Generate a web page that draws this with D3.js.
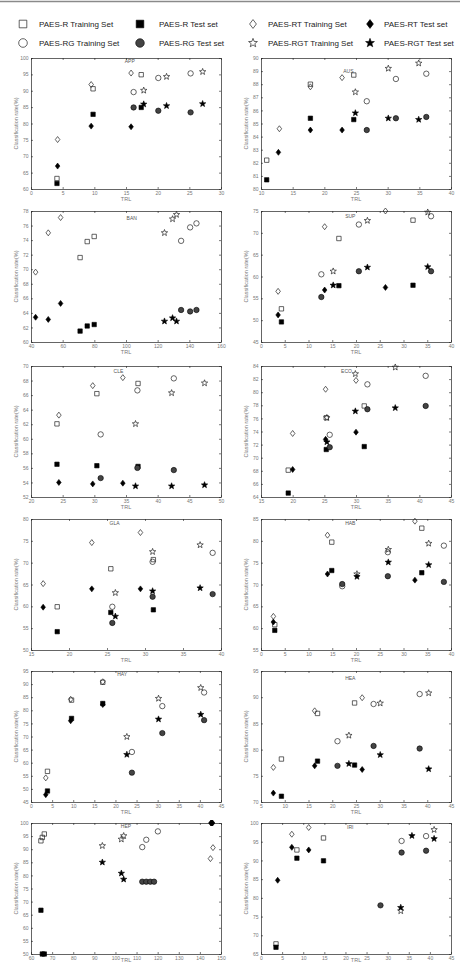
<!DOCTYPE html>
<html><head><meta charset="utf-8">
<script src="https://cdn.jsdelivr.net/npm/d3@7/dist/d3.min.js"></script>
<style>body{margin:0;background:#fff}svg{display:block}</style>
</head><body>
<script>
// ---------- DATA ----------
const panels = ["APP","AUS","BAN","SUP","CLE","ECO","GLA","HAB","HAY","HEA","HEP","IRI"];
const xDomains = [[0,30],[10,40],[40,160],[0,40],[20,50],[15,45],[15,40],[0,40],[0,45],[5,45],[60,150],[0,45]];
const yDomains = [[60,100],[80,90],[60,78],[45,75],[52,70],[64,84],[50,80],[55,85],[45,95],[70,95],[50,100],[65,100]];
const xSteps = [5,5,20,5,5,5,5,5,5,5,10,5];
const ySteps = [5,1,2,5,2,2,5,5,5,5,5,5];

// series: one entry per panel, each a list of [TRL, rate]
const rTrain = [
  [[4.1,63.2],[9.8,90.6],[17.4,94.9]],
  [[10.9,82.2],[17.8,88.0],[24.65,88.7]],
  [[71.0,71.6],[75.5,73.8],[79.9,74.5]],
  [[4.3,52.6],[16.4,68.7],[32.0,72.9]],
  [[24.1,62.05],[30.4,66.2],[36.9,67.6]],
  [[19.3,68.1],[25.3,76.1],[31.3,77.9]],
  [[18.45,59.9],[25.5,68.6],[31.1,70.7]],
  [[2.9,60.8],[14.9,79.7],[33.85,82.9]],
  [[3.9,56.7],[9.6,83.9],[17.0,90.7]],
  [[9.3,78.2],[16.9,86.9],[24.7,88.9]],
  [[64.7,93.2],[65.35,94.5],[66.3,95.8]],
  [[3.55,67.7],[8.5,92.8],[14.8,96.0]]
];
const rTest = [
  [[4.1,61.7],[9.8,82.8],[17.4,84.9]],
  [[10.9,80.7],[17.8,85.4],[24.65,85.3]],
  [[71.0,61.5],[75.5,62.2],[79.9,62.4]],
  [[4.3,49.6],[16.4,57.9],[32.0,58.0]],
  [[24.1,56.5],[30.4,56.3],[36.9,56.2]],
  [[19.3,64.6],[25.3,71.25],[31.3,71.7]],
  [[18.45,54.2],[25.5,58.6],[31.1,59.2]],
  [[2.9,59.5],[14.9,73.2],[33.85,72.7]],
  [[3.9,49.2],[9.6,76.9],[17.0,82.6]],
  [[9.3,71.1],[16.9,77.8],[24.7,77.05]],
  [[64.7,66.7],[65.35,50.0],[66.3,50.0]],
  [[3.55,66.8],[8.5,90.6],[14.8,89.9]]
];
const rtTrain = [
  [[4.2,75.1],[9.5,91.9],[15.8,95.4]],
  [[12.9,84.6],[17.8,87.8],[22.8,88.5]],
  [[42.9,69.6],[50.9,75.0],[58.7,77.1]],
  [[3.6,56.6],[13.4,71.4],[26.2,75.0]],
  [[24.4,63.25],[29.75,67.3],[34.5,68.4]],
  [[20.0,73.7],[25.2,80.45],[30.0,81.8]],
  [[16.6,65.2],[23.0,74.6],[29.4,76.9]],
  [[2.6,62.7],[14.0,81.3],[32.4,84.5]],
  [[3.5,54.2],[9.4,84.2],[17.0,90.9]],
  [[7.6,76.6],[16.3,87.4],[26.3,89.9]],
  [[145.0,86.4],[146.2,90.6],[145.6,100.0]],
  [[7.3,97.0],[11.3,98.8]]
];
const rtTest = [
  [[4.2,67.0],[9.5,79.2],[15.8,79.0]],
  [[12.75,82.8],[17.8,84.5],[22.8,84.5]],
  [[42.9,63.4],[50.9,63.1],[58.7,65.3]],
  [[3.6,51.2],[13.4,56.9],[26.2,57.5]],
  [[24.4,54.0],[29.75,53.8],[34.5,53.9]],
  [[20.0,68.2],[25.2,72.8],[30.0,73.9]],
  [[16.6,59.8],[23.0,64.0],[29.4,64.0]],
  [[2.6,61.4],[14.0,72.4],[32.4,71.0]],
  [[3.5,47.8],[9.4,76.0],[17.0,82.2]],
  [[7.6,71.7],[16.3,76.9],[26.3,76.2]],
  [[145.2,100.0],[145.6,100.0],[146.0,100.0]],
  [[3.95,84.7],[7.3,93.5],[11.3,92.8]]
];
const rgTrain = [
  [[16.2,89.6],[20.1,93.9],[25.2,95.3]],
  [[26.7,86.7],[31.3,88.4],[36.1,88.8]],
  [[134.8,73.9],[140.5,75.75],[144.5,76.3]],
  [[12.7,60.5],[20.6,71.9],[35.8,73.8]],
  [[31.0,60.6],[36.8,66.65],[42.55,68.3]],
  [[25.85,73.5],[31.8,81.2],[41.0,82.5]],
  [[25.7,59.9],[31.0,70.2],[38.9,72.25]],
  [[17.1,69.6],[26.7,77.4],[38.5,78.9]],
  [[23.9,64.1],[31.1,81.6],[41.0,86.8]],
  [[21.1,81.6],[28.7,88.7],[38.4,90.6]],
  [[112.7,90.8],[114.6,93.6],[120.1,96.8]],
  [[33.3,95.2],[39.1,96.5]]
];
const rgTest = [
  [[16.2,84.9],[20.1,83.9],[25.2,83.4]],
  [[26.7,84.5],[31.3,85.4],[36.1,85.5]],
  [[134.8,64.4],[140.5,64.2],[144.5,64.4]],
  [[12.7,55.3],[20.6,61.2],[35.8,61.2]],
  [[31.0,54.6],[36.8,56.0],[42.55,55.7]],
  [[25.85,71.6],[31.8,77.4],[41.0,77.9]],
  [[25.7,56.2],[31.0,62.2],[38.9,62.8]],
  [[17.1,70.1],[26.7,71.9],[38.5,70.6]],
  [[23.9,56.2],[31.1,71.3],[41.0,76.25]],
  [[21.1,76.9],[28.7,80.7],[38.4,80.2]],
  [[112.7,77.6],[114.6,77.6],[116.5,77.6],[118.3,77.6]],
  [[28.3,78.0],[33.3,92.1],[39.1,92.6]]
];
const rgtTrain = [
  [[17.8,90.1],[21.4,94.3],[27.1,95.8]],
  [[24.9,87.4],[30.1,89.2],[34.9,89.6]],
  [[124.3,75.0],[129.4,76.9],[131.9,77.5]],
  [[15.2,61.2],[22.4,72.8],[35.1,74.7]],
  [[36.5,62.05],[42.2,66.3],[47.4,67.65]],
  [[25.4,76.1],[29.9,82.8],[36.2,83.8]],
  [[26.1,63.1],[31.0,72.5],[37.25,74.05]],
  [[20.2,72.4],[26.8,78.0],[35.3,79.4]],
  [[22.7,69.9],[30.2,84.5],[40.2,88.6]],
  [[23.5,82.7],[30.1,88.85],[40.3,90.8]],
  [[93.8,91.3],[102.8,93.8],[103.9,95.1]],
  [[33.1,76.5],[41.0,98.2]]
];
const rgtTest = [
  [[17.8,85.9],[21.4,85.4],[27.1,86.0]],
  [[24.9,85.8],[30.1,85.4],[34.9,85.3]],
  [[124.3,62.85],[129.4,63.3],[131.9,62.85]],
  [[15.2,58.0],[22.4,62.1],[35.1,62.2]],
  [[36.5,53.5],[42.2,53.5],[47.4,53.65]],
  [[25.4,72.4],[29.9,77.1],[36.2,77.6]],
  [[26.1,57.7],[31.0,63.5],[37.25,64.2]],
  [[20.2,71.8],[26.8,75.1],[35.3,74.5]],
  [[22.7,63.1],[30.2,76.6],[40.2,78.4]],
  [[23.5,77.3],[30.1,79.0],[40.3,76.3]],
  [[93.8,85.0],[102.8,80.8],[103.9,78.5]],
  [[33.1,77.4],[35.75,96.6],[41.0,95.8]]
];
const seriesNames = ["PAES-R Training Set","PAES-R Test set","PAES-RT Training Set","PAES-RT Test set",
                     "PAES-RG Training Set","PAES-RG Test set","PAES-RGT Training Set","PAES-RGT Test set"];
const xLabel = "TRL";
const yLabel = "Classification rate(%)";

// ---------- LAYOUT / STYLE ----------
const W = 460, H = 964;
const colX = [31, 261];
const rowY = [58, 211, 366, 519, 671, 823];
const PW = 190, PH = 131;
const titlePos = [[0.52,3],[0.46,13],[0.53,7],[0.47,5],[0.46,5],[0.45,5],[0.44,4],[0.47,4],[0.48,3],[0.47,7],[0.50,3],[0.47,4]];
const seriesData = [rTrain, rTest, rtTrain, rtTest, rgTrain, rgTest, rgtTrain, rgtTest];
const seriesShape = ["square","square","diamond","diamond","circle","circle","star","star"];
const seriesFilled = [false,true,false,true,false,true,false,true];

const svg = d3.select("body").append("svg").attr("width", W).attr("height", H)
  .style("font-family", "'Liberation Sans', Arial, sans-serif");

function starPath(r) {
  const pts = [];
  for (let k = 0; k < 10; k++) {
    const a = -Math.PI / 2 + k * Math.PI / 5;
    const rr = k % 2 === 0 ? r : r * 0.42;
    pts.push([rr * Math.cos(a), rr * Math.sin(a)]);
  }
  return "M" + pts.map(p => p[0].toFixed(2) + "," + p[1].toFixed(2)).join("L") + "Z";
}
function shapePath(shape, s) {
  if (shape === "square") return `M${-s},${-s}H${s}V${s}H${-s}Z`;
  if (shape === "diamond") return `M0,${-s*1.3}L${s},0L0,${s*1.3}L${-s},0Z`;
  if (shape === "circle") return `M${s},0A${s},${s} 0 1,1 ${-s},0A${s},${s} 0 1,1 ${s},0Z`;
  return starPath(s * 1.45);
}
function marker(g, shape, filled, cx, cy, s) {
  const fill = filled ? (shape === "circle" ? "#444" : "#000") : "none";
  const stroke = filled ? "#000" : "#222";
  g.append("path").attr("d", shapePath(shape, s))
    .attr("transform", `translate(${cx},${cy})`)
    .attr("fill", fill).attr("stroke", stroke).attr("stroke-width", filled ? 0.6 : 0.7);
}
const markerSize = {square: 2.2, diamond: 2.3, circle: 2.7, star: 2.3};

// top rule
svg.append("line").attr("x1", 0).attr("x2", W).attr("y1", 1.5).attr("y2", 1.5)
  .attr("stroke", "#8a8a8a").attr("stroke-width", 1.5);

// legend
const legX = [[23,39],[140,159],[253,268],[370,384]];
const legY = [24, 43];
const legOrder = [[0,1,2,3],[4,5,6,7]];
const legSize = {square: 3.8, diamond: 3.4, circle: 4.3, star: 3.2};
legOrder.forEach((row, ri) => {
  row.forEach((si, ci) => {
    const sh = seriesShape[si];
    marker(svg, sh, seriesFilled[si], legX[ci][0], legY[ri], legSize[sh]);
    svg.append("text").attr("x", legX[ci][1]).attr("y", legY[ri]).attr("dy", "0.35em")
      .attr("font-size", 8).attr("fill", "#222").text(seriesNames[si]);
  });
});

function drawPanel(i) {
  const col = i % 2, row = Math.floor(i / 2);
  const left = colX[col], top = rowY[row];
  const g = svg.append("g");
  const x = d3.scaleLinear().domain(xDomains[i]).range([left, left + PW]);
  const y = d3.scaleLinear().domain(yDomains[i]).range([top + PH, top]);
  const xt = d3.range(xDomains[i][0], xDomains[i][1] + 1e-9, xSteps[i]);
  const yt = d3.range(yDomains[i][0], yDomains[i][1] + 1e-9, ySteps[i]);
  const fmt = d3.format("d");
  const axes = [
    [d3.axisBottom(x).tickValues(xt).tickFormat(fmt), `translate(0,${top + PH})`],
    [d3.axisTop(x).tickValues(xt).tickFormat(""), `translate(0,${top})`],
    [d3.axisLeft(y).tickValues(yt).tickFormat(fmt), `translate(${left},0)`],
    [d3.axisRight(y).tickValues(yt).tickFormat(""), `translate(${left + PW},0)`]
  ];
  axes.forEach(([ax, tr]) => {
    const a = g.append("g").attr("transform", tr)
      .call(ax.tickSizeInner(-2).tickSizeOuter(0).tickPadding(2.5));
    a.select(".domain").attr("stroke", "#222").attr("stroke-width", 0.7);
    a.selectAll(".tick line").attr("stroke", "#222").attr("stroke-width", 0.6);
    a.selectAll(".tick text").attr("font-size", 5).attr("fill", "#777")
      .attr("font-family", "'Liberation Sans', Arial, sans-serif");
  });
  // labels
  g.append("text").attr("x", left + PW / 2).attr("y", Math.min(top + PH + 12, H - 2))
    .attr("text-anchor", "middle").attr("font-size", 5.5).attr("fill", "#777").text(xLabel);
  g.append("text").attr("transform", `translate(${left - 13},${top + PH / 2}) rotate(-90)`)
    .attr("text-anchor", "middle").attr("font-size", 5.5).attr("fill", "#777").text(yLabel);
  g.append("text").attr("x", left + PW * titlePos[i][0]).attr("y", top + titlePos[i][1]).attr("dy", "0.35em")
    .attr("text-anchor", "middle").attr("font-size", 5).attr("fill", "#555").text(panels[i]);
  // marks
  seriesData.forEach((sd, si) => {
    const sh = seriesShape[si];
    sd[i].forEach(d => marker(g, sh, seriesFilled[si], x(d[0]), y(d[1]), markerSize[sh]));
  });
}
panels.forEach((p, i) => drawPanel(i));
</script>
</body></html>
